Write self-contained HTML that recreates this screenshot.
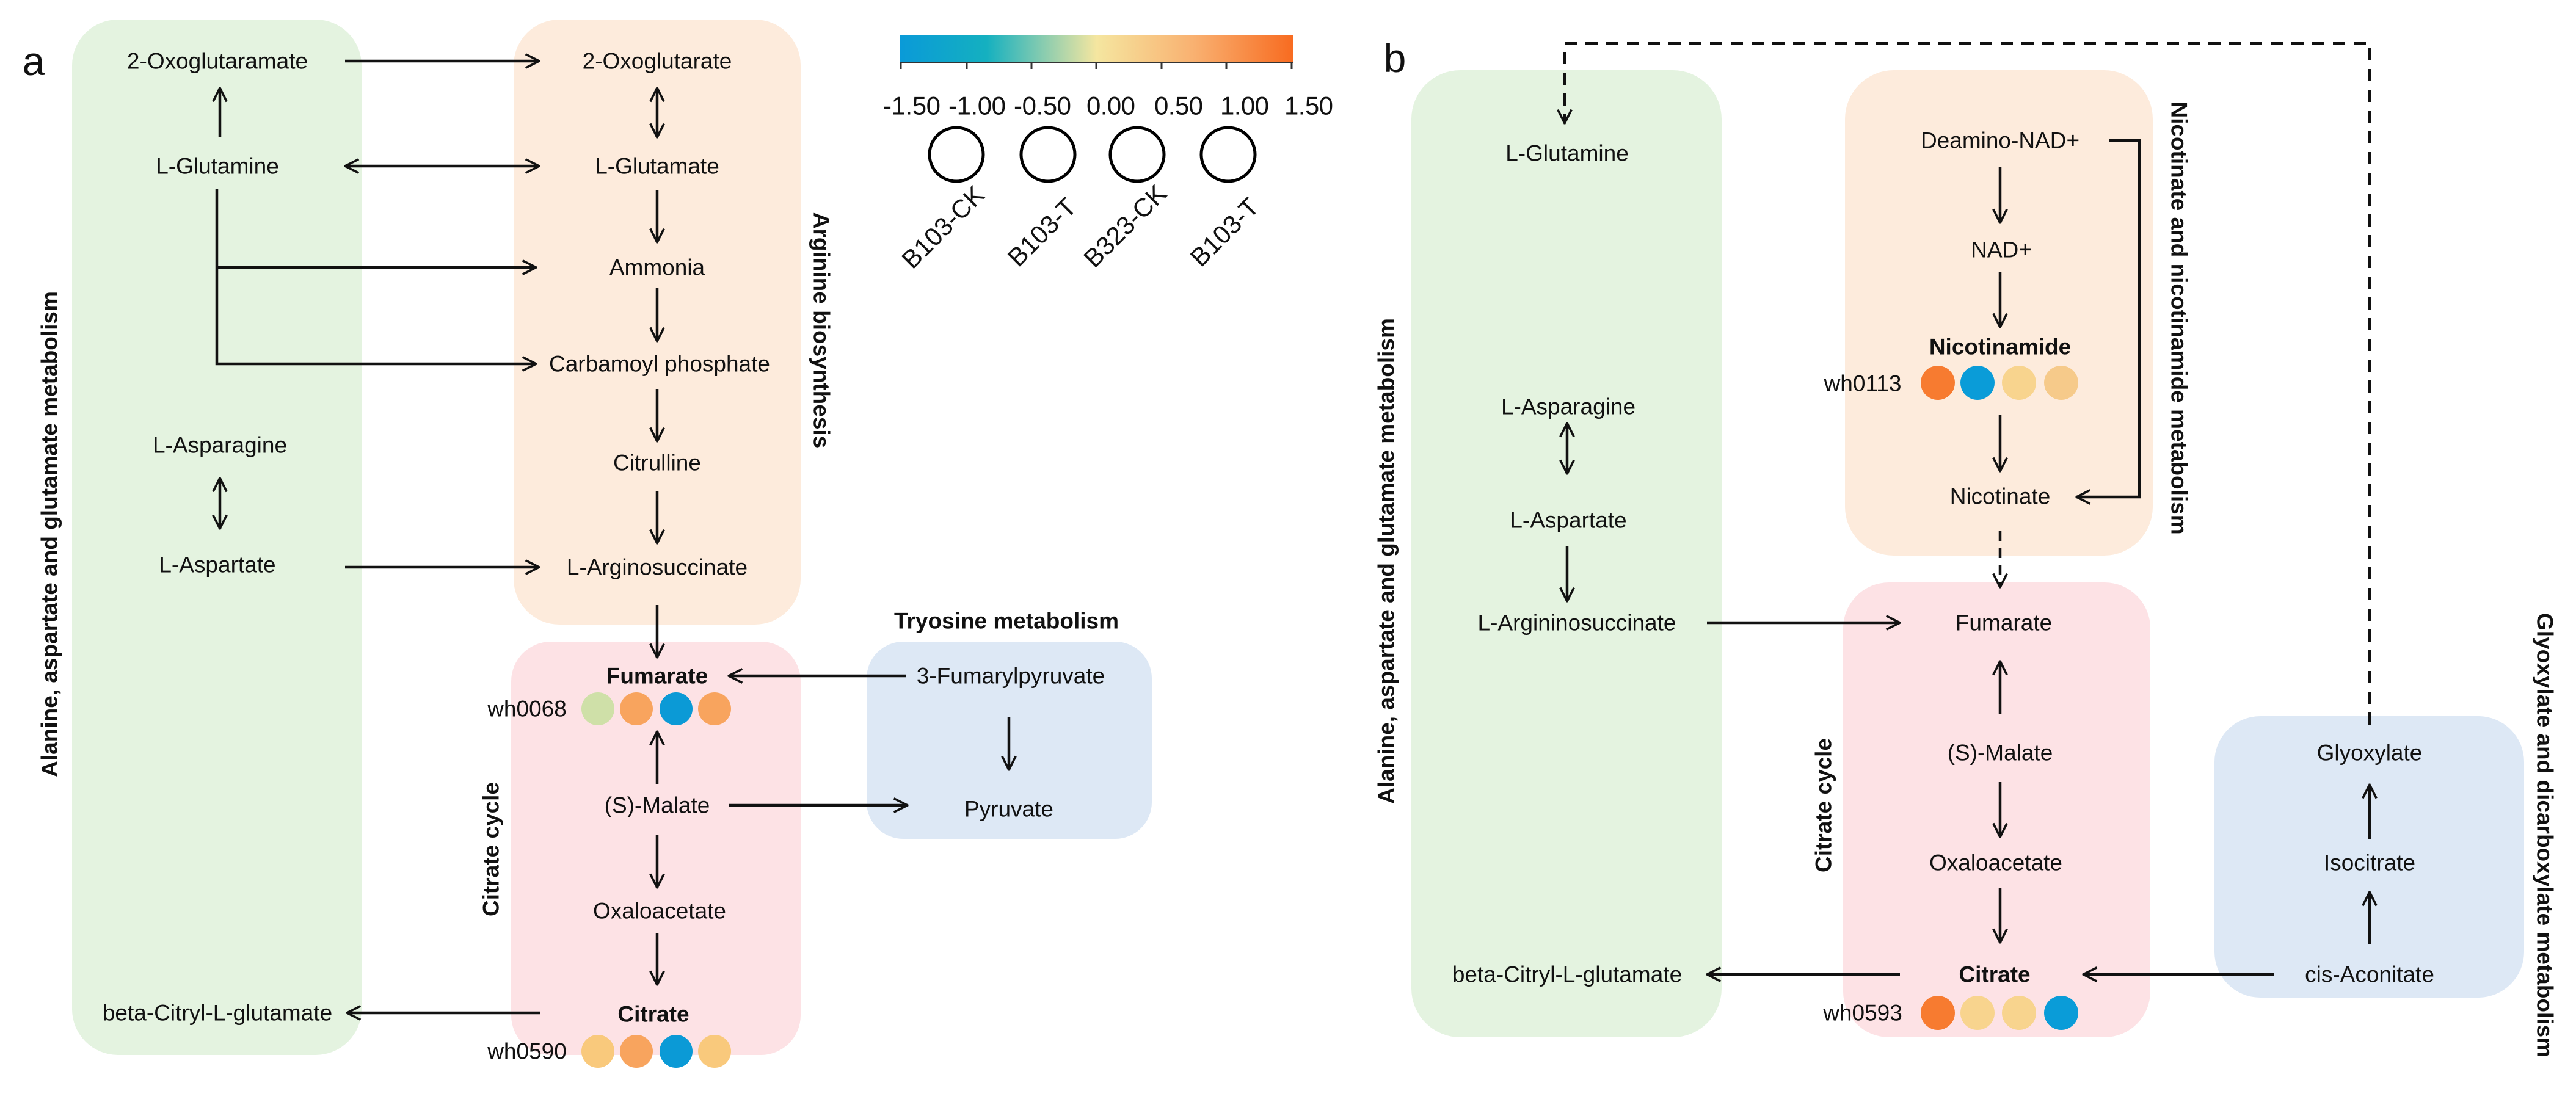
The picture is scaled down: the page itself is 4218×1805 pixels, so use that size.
<!DOCTYPE html>
<html><head><meta charset="utf-8"><style>
html,body{margin:0;padding:0;background:#fff;}
svg{display:block;}
text{font-family:"Liberation Sans",Arial,sans-serif;fill:#111;}
.n{font-size:37px;text-anchor:middle;dominant-baseline:central;}
.b{font-weight:bold;}
.l{font-size:37px;font-weight:bold;text-anchor:middle;dominant-baseline:central;}
.t{font-size:42px;text-anchor:middle;dominant-baseline:central;}
.a{stroke:#111;stroke-width:4.5;fill:none;}
</style></head><body>
<svg width="4218" height="1805" viewBox="0 0 4218 1805" xmlns="http://www.w3.org/2000/svg">
<defs>
<marker id="m" viewBox="0 0 20 20" refX="19" refY="10" markerWidth="28" markerHeight="28" markerUnits="userSpaceOnUse" orient="auto-start-reverse">
<path d="M3,2 L19,10 L3,18" fill="none" stroke="#111" stroke-width="2.6"/>
</marker>
<linearGradient id="g" x1="0" x2="1" y1="0" y2="0">
<stop offset="0" stop-color="#0a9ad8"/><stop offset="0.22" stop-color="#14b0c0"/>
<stop offset="0.5" stop-color="#f5e6a0"/><stop offset="0.75" stop-color="#f9b070"/>
<stop offset="1" stop-color="#f86b20"/></linearGradient>
</defs>

<!-- Panel a boxes -->
<rect x="118" y="32" width="474" height="1696" rx="75" fill="#e4f3e0"/>
<rect x="841" y="32" width="470" height="991" rx="75" fill="#fdebdc"/>
<rect x="837" y="1051" width="474" height="677" rx="65" fill="#fde2e5"/>
<rect x="1419" y="1051" width="467" height="323" rx="60" fill="#dde8f5"/>

<text x="55" y="100" style="font-size:66px;dominant-baseline:central;text-anchor:middle">a</text>

<!-- panel a texts -->
<text class="n" x="356" y="100">2-Oxoglutaramate</text>
<text class="n" x="356" y="272">L-Glutamine</text>
<text class="n" x="360" y="729">L-Asparagine</text>
<text class="n" x="356" y="925">L-Aspartate</text>
<text class="n" x="356" y="1659">beta-Citryl-L-glutamate</text>
<text class="n" x="1076" y="100">2-Oxoglutarate</text>
<text class="n" x="1076" y="272">L-Glutamate</text>
<text class="n" x="1076" y="438">Ammonia</text>
<text class="n" x="1080" y="596">Carbamoyl phosphate</text>
<text class="n" x="1076" y="758">Citrulline</text>
<text class="n" x="1076" y="929">L-Arginosuccinate</text>
<text class="n b" x="1076" y="1107">Fumarate</text>
<text class="n" x="1076" y="1319">(S)-Malate</text>
<text class="n" x="1080" y="1492">Oxaloacetate</text>
<text class="n b" x="1070" y="1661">Citrate</text>
<text class="n" x="1655" y="1107">3-Fumarylpyruvate</text>
<text class="n" x="1652" y="1325">Pyruvate</text>
<text class="l" x="1648" y="1017">Tryosine metabolism</text>
<text class="n" x="863" y="1161">wh0068</text>
<text class="n" x="863" y="1722">wh0590</text>
<circle cx="979" cy="1161" r="27" fill="#cfe0a8"/><circle cx="1042" cy="1161" r="27" fill="#f8a45e"/><circle cx="1107" cy="1161" r="27" fill="#0b9ad6"/><circle cx="1170" cy="1161" r="27" fill="#f8a45e"/>
<circle cx="979" cy="1722" r="27" fill="#f9c97c"/><circle cx="1042" cy="1722" r="27" fill="#f8a45e"/><circle cx="1107" cy="1722" r="27" fill="#0b9ad6"/><circle cx="1170" cy="1722" r="27" fill="#f9c97c"/>

<text class="l" transform="translate(81,875) rotate(-90)">Alanine, aspartate and glutamate metabolism</text>
<text class="l" transform="translate(1345,541) rotate(90)">Arginine biosynthesis</text>
<text class="l" transform="translate(804,1391) rotate(-90)">Citrate cycle</text>

<!-- panel a arrows -->
<line class="a" x1="565" y1="100" x2="883" y2="100" marker-end="url(#m)"/>
<line class="a" x1="360" y1="225" x2="360" y2="144" marker-end="url(#m)"/>
<line class="a" x1="565" y1="272" x2="883" y2="272" marker-start="url(#m)" marker-end="url(#m)"/>
<polyline class="a" points="355,309 355,596 878,596" marker-end="url(#m)"/>
<line class="a" x1="355" y1="438" x2="878" y2="438" marker-end="url(#m)"/>
<line class="a" x1="1076" y1="144" x2="1076" y2="225" marker-start="url(#m)" marker-end="url(#m)"/>
<line class="a" x1="1076" y1="311" x2="1076" y2="397" marker-end="url(#m)"/>
<line class="a" x1="1076" y1="472" x2="1076" y2="559" marker-end="url(#m)"/>
<line class="a" x1="1076" y1="637" x2="1076" y2="723" marker-end="url(#m)"/>
<line class="a" x1="1076" y1="804" x2="1076" y2="890" marker-end="url(#m)"/>
<line class="a" x1="1076" y1="991" x2="1076" y2="1077" marker-end="url(#m)"/>
<line class="a" x1="360" y1="783" x2="360" y2="866" marker-start="url(#m)" marker-end="url(#m)"/>
<line class="a" x1="565" y1="929" x2="883" y2="929" marker-end="url(#m)"/>
<line class="a" x1="1484" y1="1107" x2="1193" y2="1107" marker-end="url(#m)"/>
<line class="a" x1="1652" y1="1175" x2="1652" y2="1261" marker-end="url(#m)"/>
<line class="a" x1="1076" y1="1284" x2="1076" y2="1198" marker-end="url(#m)"/>
<line class="a" x1="1193" y1="1319" x2="1486" y2="1319" marker-end="url(#m)"/>
<line class="a" x1="1076" y1="1367" x2="1076" y2="1454" marker-end="url(#m)"/>
<line class="a" x1="1076" y1="1529" x2="1076" y2="1613" marker-end="url(#m)"/>
<line class="a" x1="885" y1="1659" x2="568" y2="1659" marker-end="url(#m)"/>

<!-- legend -->
<rect x="1473" y="57" width="645" height="46" fill="url(#g)"/>
<line x1="1473" y1="103" x2="2118" y2="103" stroke="#333" stroke-width="2"/>
<g stroke="#333" stroke-width="3">
<line x1="1475" y1="103" x2="1475" y2="113"/><line x1="1583" y1="103" x2="1583" y2="113"/><line x1="1689" y1="103" x2="1689" y2="113"/><line x1="1795" y1="103" x2="1795" y2="113"/><line x1="1902" y1="103" x2="1902" y2="113"/><line x1="2008" y1="103" x2="2008" y2="113"/><line x1="2115" y1="103" x2="2115" y2="113"/></g>
<text class="t" x="1493" y="173" textLength="94">-1.50</text>
<text class="t" x="1600" y="173" textLength="94">-1.00</text>
<text class="t" x="1707" y="173" textLength="94">-0.50</text>
<text class="t" x="1819" y="173" textLength="80">0.00</text>
<text class="t" x="1930" y="173" textLength="80">0.50</text>
<text class="t" x="2038" y="173" textLength="80">1.00</text>
<text class="t" x="2143" y="173" textLength="80">1.50</text>
<g fill="none" stroke="#000" stroke-width="5">
<circle cx="1566" cy="253" r="44"/><circle cx="1716" cy="253" r="44"/><circle cx="1862" cy="253" r="44"/><circle cx="2011" cy="253" r="44"/></g>
<text class="t" transform="translate(1544,372) rotate(-45)">B103-CK</text>
<text class="t" transform="translate(1706,380) rotate(-45)">B103-T</text>
<text class="t" transform="translate(1842,370) rotate(-45)">B323-CK</text>
<text class="t" transform="translate(2005,380) rotate(-45)">B103-T</text>

<!-- Panel b boxes -->
<rect x="2311" y="115" width="508" height="1584" rx="80" fill="#e4f3e0"/>
<rect x="3021" y="115" width="504" height="795" rx="80" fill="#fdebdc"/>
<rect x="3018" y="954" width="503" height="745" rx="75" fill="#fde2e5"/>
<rect x="3626" y="1173" width="507" height="461" rx="75" fill="#dde8f5"/>

<text x="2284" y="95" style="font-size:66px;dominant-baseline:central;text-anchor:middle">b</text>

<text class="n" x="2566" y="251">L-Glutamine</text>
<text class="n" x="2568" y="666">L-Asparagine</text>
<text class="n" x="2568" y="852">L-Aspartate</text>
<text class="n" x="2582" y="1020">L-Argininosuccinate</text>
<text class="n" x="2566" y="1596">beta-Citryl-L-glutamate</text>
<text class="n" x="3275" y="230">Deamino-NAD+</text>
<text class="n" x="3277" y="409">NAD+</text>
<text class="n b" x="3275" y="568">Nicotinamide</text>
<text class="n" x="3275" y="813">Nicotinate</text>
<text class="n" x="3281" y="1020">Fumarate</text>
<text class="n" x="3275" y="1233">(S)-Malate</text>
<text class="n" x="3268" y="1413">Oxaloacetate</text>
<text class="n b" x="3266" y="1596">Citrate</text>
<text class="n" x="3880" y="1233">Glyoxylate</text>
<text class="n" x="3880" y="1413">Isocitrate</text>
<text class="n" x="3880" y="1596">cis-Aconitate</text>
<text class="n" x="3050" y="628">wh0113</text>
<text class="n" x="3050" y="1659">wh0593</text>
<circle cx="3173" cy="627" r="28" fill="#f77b30"/><circle cx="3238" cy="627" r="28" fill="#0a9cd8"/><circle cx="3306" cy="627" r="28" fill="#f8d48e"/><circle cx="3375" cy="627" r="28" fill="#f6ca8a"/>
<circle cx="3173" cy="1659" r="28" fill="#f77b30"/><circle cx="3238" cy="1659" r="28" fill="#f8d48e"/><circle cx="3306" cy="1659" r="28" fill="#f8d48e"/><circle cx="3375" cy="1659" r="28" fill="#0a9cd8"/>

<text class="l" transform="translate(2270,919) rotate(-90)">Alanine, aspartate and glutamate metabolism</text>
<text class="l" transform="translate(2986,1319) rotate(-90)">Citrate cycle</text>
<text class="l" transform="translate(3568,521) rotate(90)">Nicotinate and nicotinamide metabolism</text>
<text class="l" transform="translate(4167,1368) rotate(90)">Glyoxylate and dicarboxylate metabolism</text>

<!-- panel b arrows -->
<polyline class="a" points="3880,1187 3880,71 2562,71 2562,202" stroke-dasharray="20,14" marker-end="url(#m)"/>
<line class="a" x1="2566" y1="783" x2="2566" y2="866" transform="translate(0,-90)" marker-start="url(#m)" marker-end="url(#m)"/>
<line class="a" x1="2566" y1="895" x2="2566" y2="985" marker-end="url(#m)"/>
<line class="a" x1="2795" y1="1020" x2="3111" y2="1020" marker-end="url(#m)"/>
<line class="a" x1="3275" y1="273" x2="3275" y2="365" marker-end="url(#m)"/>
<line class="a" x1="3275" y1="446" x2="3275" y2="536" marker-end="url(#m)"/>
<line class="a" x1="3275" y1="680" x2="3275" y2="772" marker-end="url(#m)"/>
<line class="a" x1="3275" y1="870" x2="3275" y2="962" stroke-dasharray="16,12" marker-end="url(#m)"/>
<polyline class="a" points="3454,230 3503,230 3503,814 3400,814" marker-end="url(#m)"/>
<line class="a" x1="3275" y1="1169" x2="3275" y2="1083" marker-end="url(#m)"/>
<line class="a" x1="3275" y1="1281" x2="3275" y2="1371" marker-end="url(#m)"/>
<line class="a" x1="3275" y1="1454" x2="3275" y2="1544" marker-end="url(#m)"/>
<line class="a" x1="3111" y1="1596" x2="2795" y2="1596" marker-end="url(#m)"/>
<line class="a" x1="3723" y1="1596" x2="3411" y2="1596" marker-end="url(#m)"/>
<line class="a" x1="3880" y1="1547" x2="3880" y2="1461" marker-end="url(#m)"/>
<line class="a" x1="3880" y1="1374" x2="3880" y2="1285" marker-end="url(#m)"/>
</svg>
</body></html>
